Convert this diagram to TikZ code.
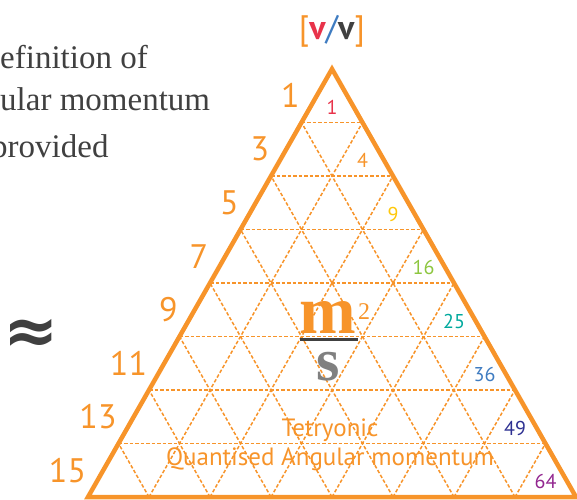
\documentclass[tikz,border=0pt]{standalone}
\usepackage{fontspec}
\setmainfont{Liberation Serif}
\newfontfamily\numfont{PT Sans}
\newfontfamily\symfont{DejaVu Sans}
\usepackage{xcolor}
\usetikzlibrary{calc}
\definecolor{laranja}{RGB}{247,148,42}
\definecolor{vermelho}{RGB}{232,51,74}
\definecolor{amarelo}{RGB}{255,200,10}
\definecolor{verde}{RGB}{141,198,63}
\definecolor{turquesa}{RGB}{0,169,157}
\definecolor{azul}{RGB}{63,124,193}
\definecolor{anil}{RGB}{46,49,146}
\definecolor{roxo}{RGB}{146,39,143}
\definecolor{cinza}{RGB}{64,64,64}
\definecolor{prata}{RGB}{128,128,128}
\tikzset{
  contorno/.style={draw=laranja, line width=4.5pt},
  grade/.style={draw=laranja, line width=1.5pt, dash pattern=on 3.5pt off 2pt},
  impar/.style={text=laranja, font=\numfont\fontsize{34}{34}\selectfont, inner sep=0pt, anchor=east},
  quadrado/.style={text=#1, font=\numfont\fontsize{20}{20}\selectfont, inner sep=0pt},
  legenda/.style={text=laranja, font=\numfont\fontsize{25}{25}\selectfont, inner sep=0pt, anchor=base},
  texto/.style={text=cinza, font=\fontsize{33}{33}\selectfont, inner sep=0pt, anchor=base west},
}

\begin{document}
\begin{tikzpicture}[x=1pt, y=-1pt]
  \useasboundingbox (0,0) rectangle (577,499);
  \clip (0,0) rectangle (577,499);
  % corners
  \coordinate (A) at (332,69);
  \coordinate (L) at (88,497);
  \coordinate (R) at (576,497);
  % grid
  \foreach \k in {1,...,7} {
    \draw[grade] ($(A)!\k/8!(L)$) -- ($(A)!\k/8!(R)$);
    \draw[grade] ($(L)!\k/8!(R)$) -- ($(A)!\k/8!(R)$);
    \draw[grade] ($(L)!\k/8!(R)$) -- ($(L)!\k/8!(A)$);
  }
  \draw[contorno] (A) -- (L) -- (R) -- cycle;
  % odd numbers and squares
  \foreach \k/\c in {1/vermelho,2/laranja,3/amarelo,4/verde,5/turquesa,6/azul,7/anil,8/roxo} {
    \pgfmathtruncatemacro{\valor}{2*\k-1}
    \pgfmathtruncatemacro{\qd}{\k*\k}
    \pgfmathsetmacro{\fm}{(\k-0.5)/8}
    \pgfmathsetmacro{\ft}{(\k-1)/8}
    \node[impar] (impar\k) at ($(A)!\fm!(L) + (-17,0)$) {\valor};
    \node[quadrado=\c] (quad\k) at ($(A)!\ft!(R) + (0,38)$) {\qd};
  }
  % units
  \node[anchor=base, inner sep=0pt, font=\numfont\fontsize{34}{34}\selectfont] (unid) at (332,39)
    {\textcolor{laranja}{[}\textcolor{vermelho}{\textbf{v}}\textcolor{azul}{/}\textcolor{cinza}{\textbf{v}}\textcolor{laranja}{]}};
  % m^2/s
  \node[anchor=base, text=laranja, font=\bfseries\fontsize{68}{68}\selectfont, inner sep=0pt] (metro) at (327.5,333) {m};
  \node[anchor=base west, text=laranja, font=\fontsize{24}{24}\selectfont, inner sep=0pt] (expo) at (358,319) {2};
  \node[anchor=base, text=prata, font=\bfseries\fontsize{60}{60}\selectfont, inner sep=0pt] (seg) at (328,380) {s};
  \draw[cinza, line width=3pt] (300,339) -- (358,339);
  % captions
  \node[legenda] (tetr) at (330,436) {Tetryonic};
  \node[legenda] (quant) at (330,465) {Quantised Angular momentum};
  % left text
  \node[texto] (def) at (0,68) {efinition of};
  \node[texto] (ang) at (0,110) {ular momentum};
  \node[texto] (prov) at (-9,157) {provided};
  \node[text=cinza, font=\symfont\bfseries\fontsize{66}{66}\selectfont] (aprox) at (31,336) {≈};
\end{tikzpicture}
\end{document}
